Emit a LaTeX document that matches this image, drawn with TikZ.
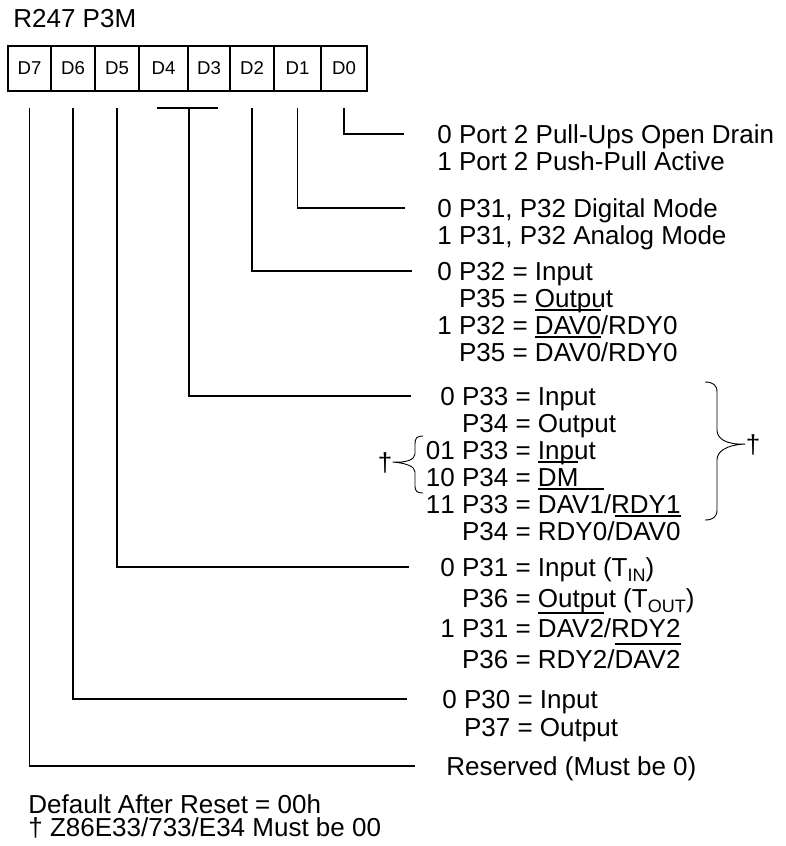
\documentclass[tikz,border=0pt]{standalone}
\usepackage{fontspec}
\setmainfont{Liberation Sans}
\newsavebox\ovlbox
\newcommand\ovl[1]{\sbox\ovlbox{#1}\rlap{\rule[0.9em]{\wd\ovlbox}{0.6pt}}\usebox\ovlbox}
\newcommand\lowsub[1]{\raisebox{-2.8pt}{\fontsize{9}{9}\selectfont #1}}
\begin{document}
\begin{tikzpicture}[x=0.5pt,y=-0.5pt,
  cell/.style={draw,line width=0.8pt,minimum height=22.5pt,inner sep=0pt,font=\fontsize{9.3}{11}\selectfont},
  txt/.style={anchor=base west,inner sep=0pt,font=\fontsize{13}{15}\selectfont},
  lbl/.style={txt,text height=12pt,text depth=2.7pt},
  conn/.style={line width=0.8pt},
  brc/.style={line width=0.45pt}]
  \useasboundingbox (0,0) rectangle (786,846);

  % レジスタ名
  \node[txt] (title) at (13,27) {R247 P3M};

  % ビット D7..D0
  \foreach \n/\l/\r in {7/8/51,6/51/95,5/95/139,4/139/188,3/188/230,2/230/274,1/274/321,0/321/367}
    \node[cell,minimum width={(\r-\l)*0.5pt}] (d\n) at ({(\l+\r)/2},68.5) {D\n};

  % D0
  \node[lbl] (t0) at (437,143) {0 Port 2 Pull-Ups Open Drain};
  \node[lbl] (t0b) at (437,170) {1 Port 2 Push-Pull Active};
  \draw[conn] ([yshift=-8pt]d0.south) |- ([xshift=-16.5pt]t0.west);

  % D1
  \node[lbl] (t1) at (437,217) {0 P31, P32 Digital Mode};
  \node[lbl] (t1b) at (437,244) {1 P31, P32 Analog Mode};
  \draw[conn] ([yshift=-8pt]d1.south) |- ([xshift=-16pt]t1.west);

  % D2
  \node[lbl] (t2) at (437,280) {0 P32 = Input};
  \node[lbl] (t2b) at (437,307) {\phantom{0 }P35 = Output};
  \node[lbl] (t2c) at (437,334) {1 P32 = \ovl{DAV0}/RDY0};
  \node[lbl] (t2d) at (437,361) {\phantom{0 }P35 = \ovl{DAV0}/RDY0};
  \draw[conn] ([yshift=-8pt]d2.south) |- ([xshift=-12.5pt]t2.west);

  % D4, D3
  \node[lbl] (t4) at (440,405) {0 P33 = Input};
  \node[lbl] (t4b) at (440,432) {\phantom{0 }P34 = Output};
  \node[lbl] (t4c) at (440,459) {\llap{0}1 P33 = Input};
  \node[lbl] (t4d) at (440,486) {\llap{1}0 P34 = \ovl{DM}};
  \node[lbl] (t4e) at (440,513) {\llap{1}1 P33 = \ovl{DAV1}/RDY1};
  \node[lbl] (t4f) at (440,540) {\phantom{0 }P34 = RDY0/\ovl{DAV0}};
  \draw[conn] ([xshift=-3.5pt,yshift=-8pt]d4.south) -- ([xshift=4.5pt,yshift=-8pt]d3.south);
  \draw[conn] ([yshift=-8pt]d4.south east) |- ([xshift=-14.5pt]t4.west);

  % 括弧と†
  \node[lbl,anchor=center] (dagl) at (385,462) {†};
  \draw[brc] (423,436) .. controls (417,436) and (415,438) .. (415,444) -- (415,454)
    .. controls (415,460) and (405,463) .. (dagl.east)
    .. controls (405,463) and (415,466) .. (415,472) -- (415,486)
    .. controls (415,491) and (417,493) .. (423,493);
  \node[lbl,anchor=center] (dagr) at (753,444) {†};
  \draw[brc] (705,382) .. controls (713,382) and (717,385) .. (717,392) -- (717,430)
    .. controls (717,438) and (725,445) .. (dagr.west)
    .. controls (725,445) and (717,452) .. (717,460) -- (717,510)
    .. controls (717,517) and (713,520) .. (705,520);

  % D5
  \node[lbl] (t5) at (440,576) {0 P31 = Input (T\lowsub{IN})};
  \node[lbl] (t5b) at (440,607) {\phantom{0 }P36 = Output (T\lowsub{OUT})};
  \node[lbl] (t5c) at (440,637) {1 P31 = \ovl{DAV2}/RDY2};
  \node[lbl] (t5d) at (440,668) {\phantom{0 }P36 = RDY2/\ovl{DAV2}};
  \draw[conn] ([yshift=-8pt]d5.south) |- ([xshift=-15.5pt]t5.west);

  % D6
  \node[lbl] (t6) at (442,708) {0 P30 = Input};
  \node[lbl] (t6b) at (442,736) {\phantom{0 }P37 = Output};
  \draw[conn] ([yshift=-8pt]d6.south) |- ([xshift=-17.5pt]t6.west);

  % D7
  \node[lbl] (t7) at (446,775) {Reserved (Must be 0)};
  \draw[conn] ([yshift=-8pt]d7.south) |- ([xshift=-15.5pt]t7.west);

  % 注記
  \node[txt] (dflt) at (28,813) {Default After Reset = 00h};
  \node[txt] (note) at (28,836) {† Z86E33/733/E34 Must be 00};
\end{tikzpicture}
\end{document}
